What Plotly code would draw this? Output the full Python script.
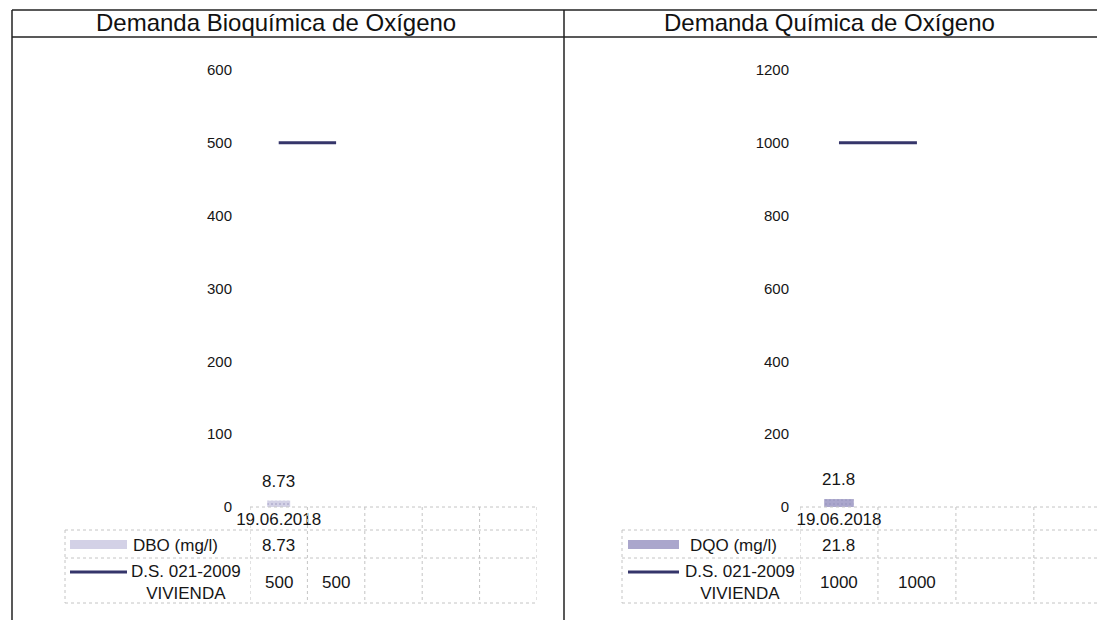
import plotly.graph_objects as go

W, H = 1097, 622

# ---------------- data ----------------
dates = ["19.06.2018", "", "", "", ""]
dbo_values = [8.73, None, None, None, None]
dbo_limit = [500, 500, None, None, None]
dqo_values = [21.8, None, None, None, None]
dqo_limit = [1000, 1000, None, None, None]

titles = ["Demanda Bioquímica de Oxígeno", "Demanda Química de Oxígeno"]
bar_names = ["DBO (mg/l)", "DQO (mg/l)"]
limit_name = ["D.S. 021-2009", "VIVIENDA"]
left_ticks = [0, 100, 200, 300, 400, 500, 600]
right_ticks = [0, 200, 400, 600, 800, 1000, 1200]


def px(x):
    return x / W


def py(y):
    return 1 - y / H


FONT = "Liberation Sans, Arial, sans-serif"
TXT = "#161616"
bar_colors = ["#d3d1e6", "#aaa6cc"]
line_color = "#35356a"

idx = list(range(len(dates)))

fig = go.Figure()

panels = [
    dict(xa="x", ya="y", vals=dbo_values, lim=dbo_limit, ticks=left_ticks,
         xdom=[px(250), px(537)], xrange=[-0.5, 4.5], standoff=17,
         bar_w=0.4, table_left=65, key=(70, 127), label_cx=175, lim_cx=186,
         title_cx=276, color=bar_colors[0], name=bar_names[0]),
    dict(xa="x2", ya="y2", vals=dqo_values, lim=dqo_limit, ticks=right_ticks,
         xdom=[px(800), 1.0], xrange=[-0.5, 3.31], standoff=10,
         bar_w=0.38, table_left=622, key=(628, 679), label_cx=733, lim_cx=740,
         title_cx=829, color=bar_colors[1], name=bar_names[1]),
]

ydom = [py(507), py(70)]
shapes = []
annotations = []


def ann(**kw):
    base = dict(showarrow=False, xanchor="center", yanchor="middle",
                font=dict(family=FONT, size=17, color=TXT))
    base.update(kw)
    annotations.append(base)


for i, p in enumerate(panels):
    fig.add_trace(go.Bar(
        x=idx, y=p["vals"], xaxis=p["xa"], yaxis=p["ya"], width=p["bar_w"],
        marker=dict(color=p["color"], line=dict(width=0),
                    pattern=dict(shape=".", fgcolor="#8f8cb8", size=4, solidity=0.2)),
        showlegend=False, hoverinfo="skip"))
    fig.add_trace(go.Scatter(
        x=idx, y=p["lim"], xaxis=p["xa"], yaxis=p["ya"], mode="lines",
        line=dict(color=line_color, width=3), showlegend=False,
        connectgaps=False, hoverinfo="skip"))

    # data labels above bars
    for k, v in enumerate(p["vals"]):
        if v is not None:
            ann(x=idx[k], y=v, xref=p["xa"], yref=p["ya"], text=f"{v:g}",
                yanchor="bottom", yshift=8)

    # data table: values
    for k, v in enumerate(p["vals"]):
        if v is not None:
            ann(x=idx[k], y=py(545), xref=p["xa"], yref="paper", text=f"{v:g}")
    for k, v in enumerate(p["lim"]):
        if v is not None:
            ann(x=idx[k], y=py(582), xref=p["xa"], yref="paper", text=f"{v:g}")

    # row labels
    ann(x=px(p["label_cx"]), y=py(545), xref="paper", yref="paper", text=p["name"])
    ann(x=px(p["lim_cx"]), y=py(582), xref="paper", yref="paper",
        text="<br>".join(limit_name))

    # legend keys
    k0, k1 = p["key"]
    shapes.append(dict(type="rect", xref="paper", yref="paper",
                       x0=px(k0), x1=px(k1), y0=py(549), y1=py(540),
                       fillcolor=p["color"], line=dict(width=0)))
    shapes.append(dict(type="line", xref="paper", yref="paper",
                       x0=px(k0), x1=px(k1), y0=py(572), y1=py(572),
                       line=dict(color=line_color, width=3)))

    # table grid
    grid = dict(color="#c4c4c4", width=1, dash="dot")
    xa_ref = p["xa"]
    n = len(dates)
    shapes.append(dict(type="line", xref=xa_ref, yref="paper", x0=-0.5, x1=n - 0.5,
                       y0=py(507), y1=py(507), line=grid))
    for yy in (530, 558, 603):
        shapes.append(dict(type="line", xref="paper", yref="paper",
                           x0=px(p["table_left"]), x1=p["xdom"][0],
                           y0=py(yy), y1=py(yy), line=grid))
        shapes.append(dict(type="line", xref=xa_ref, yref="paper", x0=-0.5, x1=n - 0.5,
                           y0=py(yy), y1=py(yy), line=grid))
    shapes.append(dict(type="line", xref="paper", yref="paper",
                       x0=px(p["table_left"]), x1=px(p["table_left"]),
                       y0=py(530), y1=py(603), line=grid))
    for k in range(n + 1):
        shapes.append(dict(type="line", xref=xa_ref, yref="paper", x0=k - 0.5, x1=k - 0.5,
                           y0=py(507), y1=py(603), line=grid))

    # titles
    ann(x=px(p["title_cx"]), y=py(23), xref="paper", yref="paper", text=titles[i],
        font=dict(family=FONT, size=24, color="#111111"))

# panel borders
border = dict(color="#222222", width=1.5)
shapes += [
    dict(type="line", xref="paper", yref="paper", x0=px(12), x1=1, y0=py(10), y1=py(10), line=border),
    dict(type="line", xref="paper", yref="paper", x0=px(12), x1=1, y0=py(37), y1=py(37), line=border),
    dict(type="line", xref="paper", yref="paper", x0=px(12), x1=px(12), y0=py(10), y1=py(620), line=border),
    dict(type="line", xref="paper", yref="paper", x0=px(564), x1=px(564), y0=py(10), y1=py(620), line=border),
]

axis_common = dict(showgrid=False, zeroline=False, showline=False, ticks="", automargin=False)
fig.update_layout(
    width=W, height=H, margin=dict(l=0, r=0, t=0, b=0, autoexpand=False),
    paper_bgcolor="white", plot_bgcolor="white",
    barmode="overlay",
    xaxis=dict(domain=panels[0]["xdom"], range=panels[0]["xrange"], tickvals=idx,
               ticktext=dates, tickfont=dict(family=FONT, size=17, color=TXT),
               anchor="y", **axis_common),
    yaxis=dict(domain=ydom, range=[0, 600], tickvals=left_ticks,
               tickfont=dict(family=FONT, size=15, color=TXT),
               ticklabelstandoff=panels[0]["standoff"], anchor="x", **axis_common),
    xaxis2=dict(domain=panels[1]["xdom"], range=panels[1]["xrange"], tickvals=idx,
                ticktext=dates, tickfont=dict(family=FONT, size=17, color=TXT),
                anchor="y2", **axis_common),
    yaxis2=dict(domain=ydom, range=[0, 1200], tickvals=right_ticks,
                tickfont=dict(family=FONT, size=15, color=TXT),
                ticklabelstandoff=panels[1]["standoff"], anchor="x2", **axis_common),
    shapes=shapes, annotations=annotations,
)

fig.write_html("out.html", config={"displayModeBar": False},
               post_script="document.body.style.margin='0';")
